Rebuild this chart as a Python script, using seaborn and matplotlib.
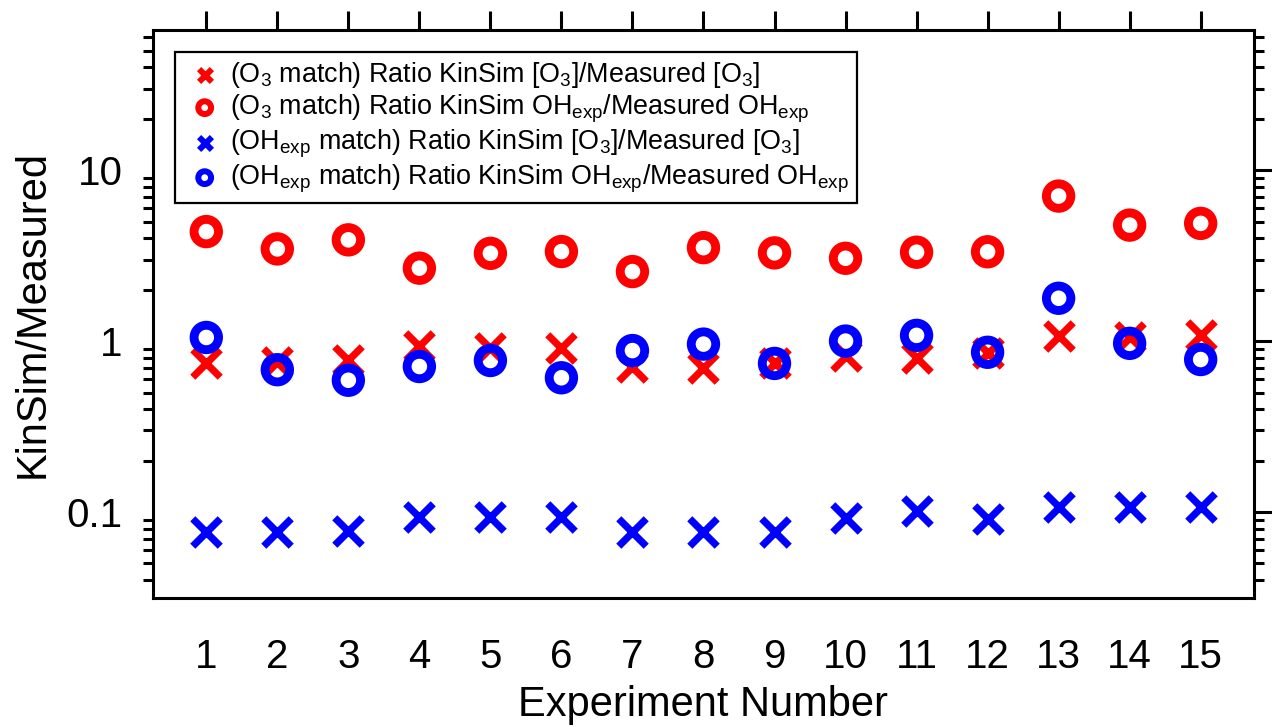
import matplotlib
matplotlib.use('Agg')
import matplotlib.pyplot as plt
import seaborn as sns
from matplotlib.ticker import LogLocator, NullFormatter, FuncFormatter, FixedLocator

# experiment numbers and ratios
experiment = list(range(1, 16))
o3match_o3 = [0.74, 0.75, 0.78, 0.93, 0.91, 0.91, 0.71, 0.70, 0.74, 0.82, 0.80, 0.85, 1.07, 1.06, 1.09]
o3match_oh = [4.37, 3.46, 3.91, 2.67, 3.26, 3.34, 2.55, 3.52, 3.28, 3.05, 3.31, 3.33, 7.05, 4.77, 4.88]
ohmatch_o3 = [0.076, 0.076, 0.077, 0.094, 0.094, 0.094, 0.076, 0.076, 0.076, 0.092, 0.102, 0.091, 0.107, 0.107, 0.107]
ohmatch_oh = [1.05, 0.68, 0.59, 0.71, 0.77, 0.61, 0.88, 0.96, 0.74, 1.00, 1.08, 0.86, 1.78, 0.97, 0.78]

legend_labels = [
    r'(O$_3$ match) Ratio KinSim [O$_3$]/Measured [O$_3$]',
    r'(O$_3$ match) Ratio KinSim OH$_{\mathrm{exp}}$/Measured OH$_{\mathrm{exp}}$',
    r'(OH$_{\mathrm{exp}}$ match) Ratio KinSim [O$_3$]/Measured [O$_3$]',
    r'(OH$_{\mathrm{exp}}$ match) Ratio KinSim OH$_{\mathrm{exp}}$/Measured OH$_{\mathrm{exp}}$',
]
y_ticks = [0.1, 1, 10]

sns.set_style('white')
plt.rcParams['font.family'] = ['Liberation Sans', 'DejaVu Sans']
plt.rcParams['mathtext.fontset'] = 'custom'
plt.rcParams['mathtext.rm'] = 'Liberation Sans'
plt.rcParams['mathtext.it'] = 'Liberation Sans:italic'
plt.rcParams['mathtext.bf'] = 'Liberation Sans:bold'
plt.rcParams['text.color'] = 'black'
plt.rcParams['axes.labelcolor'] = 'black'
plt.rcParams['xtick.color'] = 'black'
plt.rcParams['ytick.color'] = 'black'

fig = plt.figure(figsize=(12.72, 7.27), dpi=100)
ax = fig.add_axes([0.1203, 0.1774, 0.8655, 0.7813])

x_size, x_lw = 390, 5.2
o_size, o_lw = 310, 6.4
sns.scatterplot(x=experiment, y=o3match_o3, marker='x', color='red', s=x_size,
                linewidth=x_lw, label=legend_labels[0], ax=ax, zorder=3)
sns.scatterplot(x=experiment, y=o3match_oh, marker='o', color='red', facecolor='none',
                edgecolor='red', s=o_size, linewidth=o_lw, label=legend_labels[1], ax=ax, zorder=3)
sns.scatterplot(x=experiment, y=ohmatch_o3, marker='x', color='blue', s=x_size,
                linewidth=x_lw, label=legend_labels[2], ax=ax, zorder=3)
sns.scatterplot(x=experiment, y=ohmatch_oh, marker='o', color='blue', facecolor='none',
                edgecolor='blue', s=o_size, linewidth=o_lw, label=legend_labels[3], ax=ax, zorder=3)

ax.set_yscale('log')
ax.set_ylim(0.0314, 66)
ax.set_xlim(0.25, 15.75)
ax.xaxis.set_major_locator(FixedLocator(experiment))
ax.yaxis.set_major_locator(FixedLocator(y_ticks))
ax.yaxis.set_major_formatter(FuncFormatter(lambda v, p: f'{v:g}'))
ax.yaxis.set_minor_locator(LogLocator(base=10, subs=[2, 3, 4, 5, 6, 7, 8, 9], numticks=20))
ax.yaxis.set_minor_formatter(NullFormatter())

for sp in ax.spines.values():
    sp.set_visible(True)
    sp.set_linewidth(2.2)
    sp.set_color('black')

ax.tick_params(which='major', direction='out', length=14, width=2.2, top=True, right=True,
               labelsize=29, color='black')
ax.tick_params(axis='x', which='major', pad=15)
ax.tick_params(axis='y', which='major', pad=8)
ax.tick_params(which='minor', direction='out', length=7, width=2.2, right=True, left=True)

ax.set_xlabel('Experiment Number', fontsize=30, labelpad=6)
ax.set_ylabel('KinSim/Measured', fontsize=30, labelpad=10)

leg = ax.legend(loc='upper left', bbox_to_anchor=(0.020, 0.961), borderaxespad=0,
                fontsize=19.4, frameon=True, fancybox=False, framealpha=1,
                edgecolor='black', handlelength=1.6, handletextpad=0.15,
                borderpad=0.3, labelspacing=0.1)
leg.get_frame().set_linewidth(1.6)
for h in leg.legend_handles:
    h.set_sizes([85])
    h.set_linewidths([4.3])

fig.savefig('out.png', dpi=100)
